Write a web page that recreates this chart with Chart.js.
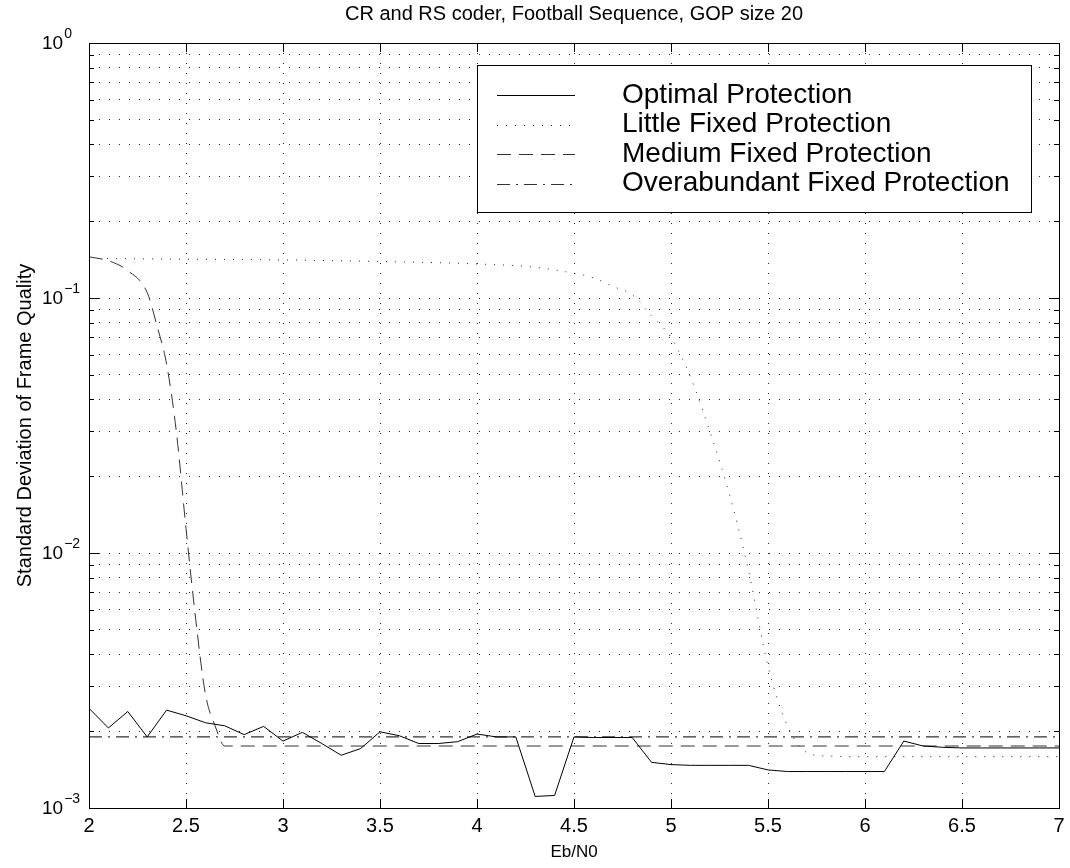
<!DOCTYPE html>
<html>
<head>
<meta charset="utf-8">
<script src="https://cdn.jsdelivr.net/npm/chart.js@4.4.1/dist/chart.umd.min.js"></script>
<style>
  body { margin: 0; background: #fff; }
  #myChart { display: block; background: #fff; }
</style>
</head>
<body>
<canvas id="myChart" width="1070" height="868"></canvas>
<script>
// Eb/N0 sample points
let ebn0 = [2.0, 2.1, 2.2, 2.3, 2.4, 2.5, 2.6, 2.7, 2.8, 2.9,
  3.0, 3.1, 3.2, 3.3, 3.4, 3.5, 3.6, 3.7, 3.8, 3.9,
  4.0, 4.1, 4.2, 4.3, 4.4, 4.5, 4.6, 4.7, 4.8, 4.9,
  5.0, 5.1, 5.2, 5.3, 5.4, 5.5, 5.6, 5.7, 5.8, 5.9,
  6.0, 6.1, 6.2, 6.3, 6.4, 6.5, 6.6, 6.7, 6.8, 6.9, 7.0];

let optimal = [0.00246, 0.00206, 0.00239, 0.00190, 0.00242, 0.00230, 0.00216, 0.00210, 0.00194, 0.00209,
  0.00183, 0.00198, 0.00179, 0.00161, 0.00171, 0.00199, 0.00192, 0.00179, 0.00179, 0.00182,
  0.00195, 0.00190, 0.00190, 0.00111, 0.00112, 0.00190, 0.00189, 0.00189, 0.00189, 0.00151,
  0.00148, 0.00147, 0.00147, 0.00147, 0.00147, 0.00141, 0.00139, 0.00139, 0.00139, 0.00139,
  0.00139, 0.00139, 0.00183, 0.00175, 0.00173, 0.00172, 0.00172, 0.00172, 0.00172, 0.00172, 0.00172];

// little fixed protection (dotted)
let littleX = [2.0, 2.5, 3.0, 3.5, 4.0, 4.3, 4.5, 4.6, 4.7, 4.8, 4.9, 5.0, 5.1, 5.2, 5.3, 5.4, 5.5, 5.6, 5.7, 5.8, 6.0, 7.0];
let littleY = [0.143, 0.142, 0.141, 0.139, 0.136, 0.132, 0.125, 0.120, 0.111, 0.103, 0.085, 0.070, 0.049, 0.030, 0.0171, 0.0085, 0.0036, 0.0021, 0.00165, 0.0016, 0.00159, 0.00159];

// medium fixed protection (dashed)
let mediumX = [2.0, 2.1, 2.2, 2.3, 2.35, 2.4, 2.45, 2.5, 2.55, 2.6, 2.65, 2.7, 7.0];
let mediumY = [0.145, 0.140, 0.128, 0.105, 0.078, 0.055, 0.030, 0.0125, 0.0055, 0.0028, 0.0021, 0.00175, 0.00175];

// overabundant fixed protection (dash-dot)
let overX = [2.0, 7.0];
let overY = [0.0019, 0.0019];

let xTicks = [2, 2.5, 3, 3.5, 4, 4.5, 5, 5.5, 6, 6.5, 7];
let yMajor = [0.001, 0.01, 0.1, 1];
let yMinor = [0.002, 0.003, 0.004, 0.005, 0.006, 0.007, 0.008, 0.009,
  0.02, 0.03, 0.04, 0.05, 0.06, 0.07, 0.08, 0.09,
  0.2, 0.3, 0.4, 0.5, 0.6, 0.7, 0.8, 0.9];
let yExp = ['\u22123', '\u22122', '\u22121', '0'];

let legendNames = ['Optimal Protection', 'Little Fixed Protection', 'Medium Fixed Protection', 'Overabundant Fixed Protection'];
let dashes = [[], [1, 8], [14, 8], [13, 6, 2, 6]];
let lineColors = ['#000', '#222', '#333', '#333'];

function toPoints(xs, ys) {
  return xs.map((x, i) => ({x: x, y: ys[i]}));
}

const FONT = '"Liberation Sans", Arial, Helvetica, sans-serif';

// MATLAB-ish box, inward ticks, labels and legend
let matlabFrame = {
  id: 'matlabFrame',
  afterDraw(chart) {
    let ctx = chart.ctx;
    let a = chart.chartArea;
    let xs = chart.scales.x;
    let ys = chart.scales.y;
    ctx.save();
    ctx.strokeStyle = '#000';
    ctx.lineWidth = 1;
    ctx.setLineDash([]);
    ctx.strokeRect(Math.round(a.left) + 0.5, Math.round(a.top) + 0.5,
      Math.round(a.right - a.left), Math.round(a.bottom - a.top));

    ctx.beginPath();
    xTicks.forEach(v => {
      let px = Math.round(xs.getPixelForValue(v)) + 0.5;
      ctx.moveTo(px, a.bottom); ctx.lineTo(px, a.bottom - 9);
      ctx.moveTo(px, a.top); ctx.lineTo(px, a.top + 9);
    });
    yMajor.forEach(v => {
      let py = Math.round(ys.getPixelForValue(v)) + 0.5;
      ctx.moveTo(a.left, py); ctx.lineTo(a.left + 10, py);
      ctx.moveTo(a.right, py); ctx.lineTo(a.right - 10, py);
    });
    yMinor.forEach(v => {
      let py = Math.round(ys.getPixelForValue(v)) + 0.5;
      ctx.moveTo(a.left, py); ctx.lineTo(a.left + 5, py);
      ctx.moveTo(a.right, py); ctx.lineTo(a.right - 5, py);
    });
    ctx.stroke();

    // x tick labels
    ctx.fillStyle = '#000';
    ctx.font = '20px ' + FONT;
    ctx.textAlign = 'center';
    ctx.textBaseline = 'top';
    xTicks.forEach(v => {
      ctx.fillText(String(v), xs.getPixelForValue(v), a.bottom + 8);
    });

    // y tick labels 10^k
    yMajor.forEach((v, i) => {
      let py = ys.getPixelForValue(v);
      ctx.font = '19px ' + FONT;
      ctx.textAlign = 'left';
      ctx.textBaseline = 'middle';
      ctx.fillText('10', 42, py + 1);
      let w = ctx.measureText('10').width;
      ctx.font = '14px ' + FONT;
      ctx.fillText(yExp[i], 42 + w + 1, py - 9);
    });

    // title and axis labels
    ctx.textAlign = 'center';
    ctx.textBaseline = 'middle';
    let cx = (a.left + a.right) / 2;
    ctx.font = '20px ' + FONT;
    ctx.fillText('CR and RS coder, Football Sequence, GOP size 20', cx, 14);
    ctx.font = '17px ' + FONT;
    ctx.fillText('Eb/N0', cx, 852);
    ctx.save();
    ctx.translate(25, (a.top + a.bottom) / 2);
    ctx.rotate(-Math.PI / 2);
    ctx.font = '20px ' + FONT;
    ctx.fillText('Standard Deviation of Frame Quality', 0, 0);
    ctx.restore();

    // legend box
    let lx = 477, ly = 65, lw = 554, lh = 147;
    ctx.fillStyle = '#fff';
    ctx.fillRect(lx, ly, lw, lh);
    ctx.strokeStyle = '#000';
    ctx.lineWidth = 1;
    ctx.strokeRect(lx + 0.5, ly + 0.5, lw, lh);
    ctx.font = '28px ' + FONT;
    ctx.textAlign = 'left';
    ctx.textBaseline = 'middle';
    legendNames.forEach((name, i) => {
      let ry = 95 + i * 29.5;
      ctx.strokeStyle = lineColors[i];
      ctx.setLineDash(dashes[i]);
      ctx.beginPath();
      ctx.moveTo(497, Math.round(ry) + 0.5);
      ctx.lineTo(575, Math.round(ry) + 0.5);
      ctx.stroke();
      ctx.setLineDash([]);
      ctx.fillStyle = '#000';
      ctx.fillText(name, 622, ry);
    });
    ctx.restore();
  }
};

let gridOpts = {color: 'rgba(0,0,0,0.85)', lineWidth: 1, drawTicks: false};

let ctx = document.getElementById('myChart').getContext('2d');
let chart = new Chart(ctx, {
  type: 'line',
  data: {
    datasets: [
      {label: legendNames[0], data: toPoints(ebn0, optimal), borderColor: lineColors[0], borderWidth: 1, borderDash: dashes[0]},
      {label: legendNames[1], data: toPoints(littleX, littleY), borderColor: lineColors[1], borderWidth: 1, borderDash: dashes[1], cubicInterpolationMode: 'monotone'},
      {label: legendNames[2], data: toPoints(mediumX, mediumY), borderColor: lineColors[2], borderWidth: 1, borderDash: dashes[2], cubicInterpolationMode: 'monotone'},
      {label: legendNames[3], data: toPoints(overX, overY), borderColor: lineColors[3], borderWidth: 1.3, borderDash: dashes[3]}
    ]
  },
  options: {
    responsive: false,
    animation: false,
    layout: {padding: {left: 89, top: 43, right: 11, bottom: 60}},
    elements: {point: {radius: 0}, line: {tension: 0}},
    plugins: {legend: {display: false}, tooltip: {enabled: false}},
    scales: {
      x: {
        type: 'linear', min: 2, max: 7,
        afterBuildTicks: s => { s.ticks = xTicks.map(v => ({value: v})); },
        ticks: {display: false},
        grid: gridOpts,
        border: {display: false, dash: [1, 9]}
      },
      y: {
        type: 'logarithmic', min: 0.001, max: 1,
        afterBuildTicks: s => { s.ticks = yMajor.concat(yMinor).map(v => ({value: v})); },
        ticks: {display: false},
        grid: gridOpts,
        border: {display: false, dash: [1, 9]}
      }
    }
  },
  plugins: [matlabFrame]
});
</script>
</body>
</html>
